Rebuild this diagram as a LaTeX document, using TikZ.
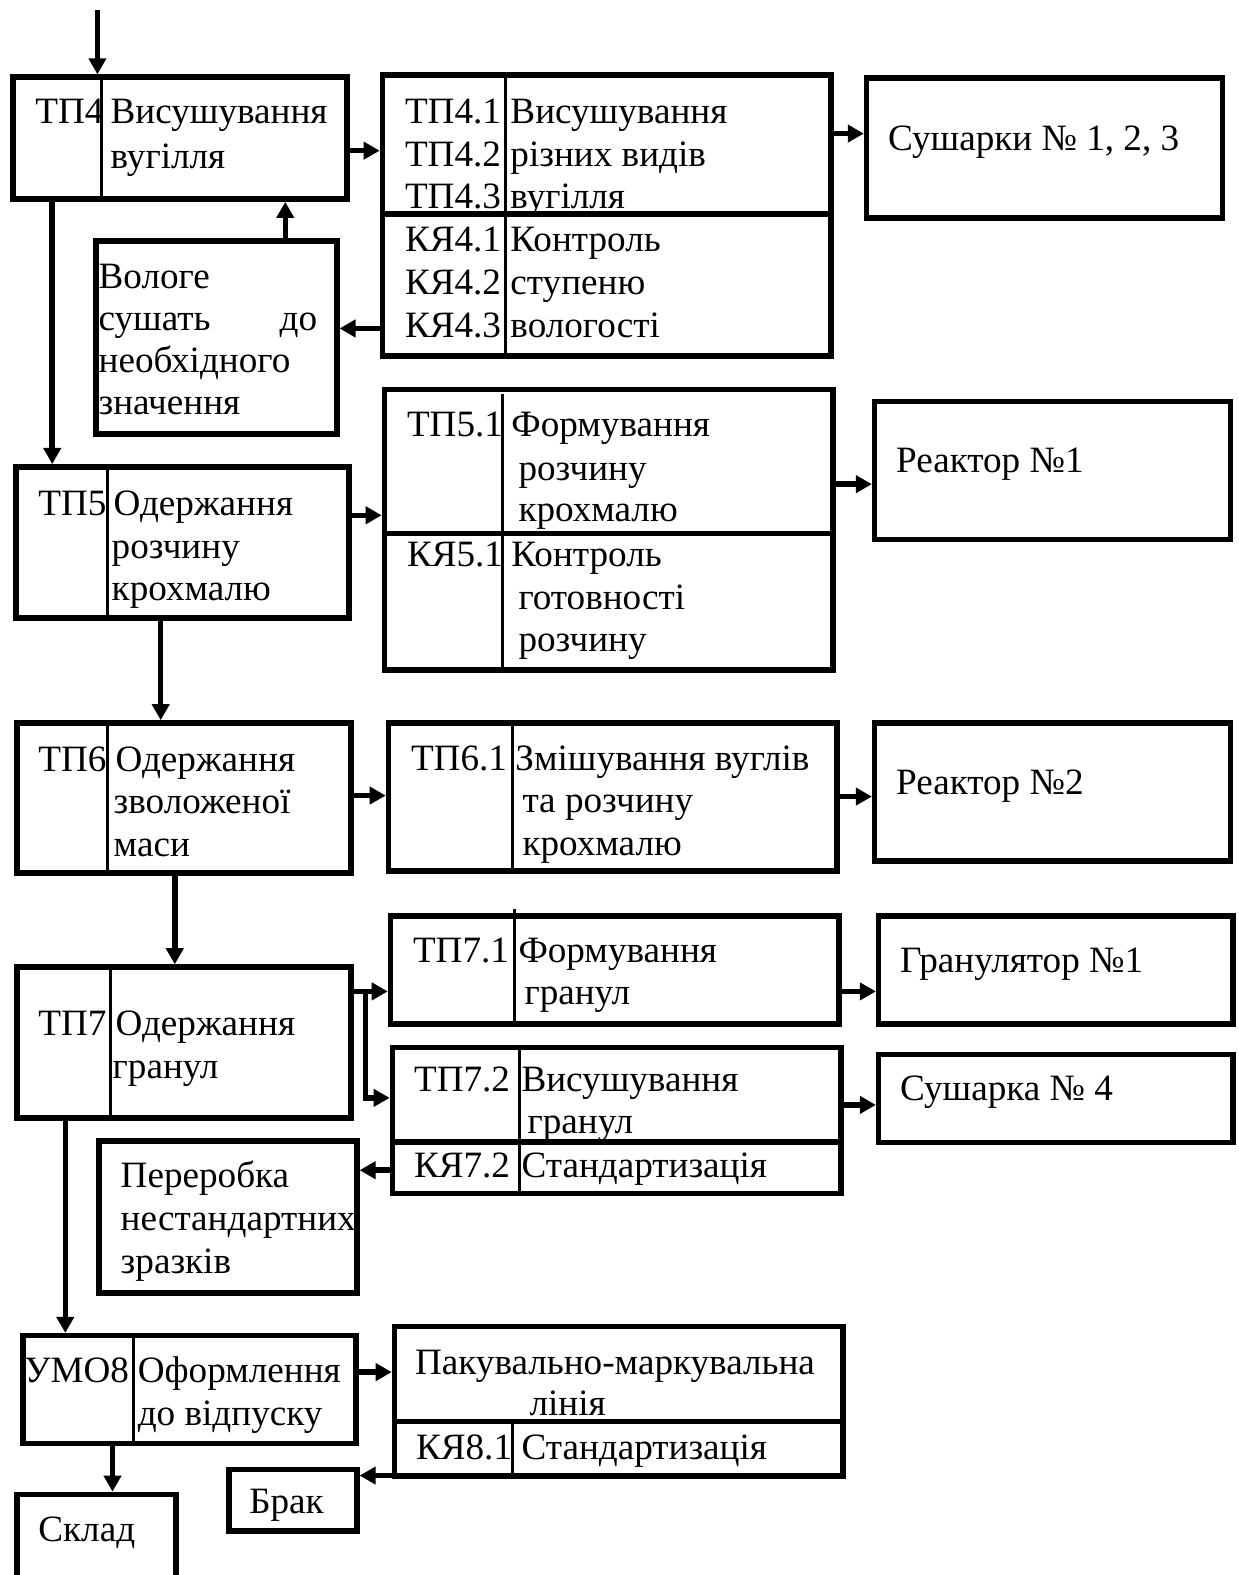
\documentclass[tikz,border=0pt]{standalone}
\usepackage{fontspec}
\setmainfont{Liberation Serif}
\usetikzlibrary{arrows.meta}
\newcommand\mkbox[5]{\node[box, minimum width={#4-#2-5.5}, minimum height={#5-#3-5.5}] (#1) at (#2,#3) {};}
\newcommand\vdiv[2]{\draw[divl] ([xshift=#2pt]#1.north west) -- ([xshift=#2pt]#1.south west);}
\newcommand\hsplit[2]{\draw[splitl] ([yshift=-#2pt]#1.north west) -- ([yshift=-#2pt]#1.north east);}
\begin{document}
\begin{tikzpicture}[x=1pt,y=-1pt,
 box/.style={draw, line width=5.5pt, inner sep=0pt, outer sep=2.75pt, anchor=north west},
 divl/.style={line width=2.8pt},
 splitl/.style={line width=5.5pt},
 arr/.style={line width=5.5pt, -{Triangle[length=16pt,width=17pt]}},
 txt/.style={anchor=base west, inner sep=0pt, font=\fontsize{37}{43}\selectfont},
 txte/.style={anchor=base east, inner sep=0pt, font=\fontsize{37}{43}\selectfont},
]
\useasboundingbox (0,0) rectangle (1233,1568);
% boxes
\mkbox{tp4}{10}{74}{348}{201}
\mkbox{tp41}{378}{72}{830}{357}
\mkbox{sush}{860}{75}{1220}{220}
\mkbox{vol}{93}{237}{338}{435}
\mkbox{tp5}{13}{462}{350}{618}
\mkbox{tp51}{380}{385}{832}{670}
\mkbox{ra}{868}{397}{1228}{540}
\mkbox{tp6}{14}{717}{352}{872}
\mkbox{tp61}{384}{717}{836}{870}
\mkbox{rb}{868}{717}{1228}{860}
\mkbox{tp7}{14}{960}{352}{1116}
\mkbox{tp71}{386}{909}{838}{1022}
\mkbox{gran}{872}{909}{1230}{1022}
\mkbox{tp72}{388}{1040}{840}{1191}
\mkbox{susha}{872}{1047}{1230}{1140}
\mkbox{perer}{96}{1133}{358}{1290}
\mkbox{umo}{20}{1327}{357}{1440}
\mkbox{pak}{390}{1318}{842}{1472}
\mkbox{brak}{225}{1460}{358}{1527}
\mkbox{sklad}{14}{1485}{178}{1590}
% texts
\node[txt] (t1) at (35,123) {ТП4};
\node[txt] (t2) at (110,123) {Висушування};
\node[txt] (t3) at (110,168) {вугілля};
\node[txt] (t4) at (403,123) {ТП4.1};
\node[txt] (t5) at (508,123) {Висушування};
\node[txt] (t6) at (403,166) {ТП4.2};
\node[txt] (t7) at (508,166) {різних видів};
\node[txt] (t8) at (403,208) {ТП4.3};
\node[txt] (t9) at (508,208) {вугілля};
\node[txt] (t10) at (403,250) {КЯ4.1};
\node[txt] (t11) at (508,250) {Контроль};
\node[txt] (t12) at (403,293) {КЯ4.2};
\node[txt] (t13) at (508,293) {ступеню};
\node[txt] (t14) at (403,336) {КЯ4.3};
\node[txt] (t15) at (508,336) {вологості};
\node[txt] (t16) at (884,150) {Сушарки № 1, 2, 3};
\node[txt] (t17) at (98,287) {Вологе};
\node[txt] (t18) at (98,329) {сушать};
\node[txte] (t19) at (316,329) {до};
\node[txt] (t20) at (98,371) {необхідного};
\node[txt] (t21) at (98,413) {значення};
\node[txt] (t22) at (38,513) {ТП5};
\node[txt] (t23) at (113,513) {Одержання};
\node[txt] (t24) at (111,556) {розчину};
\node[txt] (t25) at (111,598) {крохмалю};
\node[txt] (t26) at (405,435) {ТП5.1};
\node[txt] (t27) at (509,435) {Формування};
\node[txt] (t28) at (516,478) {розчину};
\node[txt] (t29) at (516,519) {крохмалю};
\node[txt] (t30) at (405,564) {КЯ5.1};
\node[txt] (t31) at (509,564) {Контроль};
\node[txt] (t32) at (516,607) {готовності};
\node[txt] (t33) at (516,649) {розчину};
\node[txt] (t34) at (892,470) {Реактор №1};
\node[txt] (t35) at (38,768) {ТП6};
\node[txt] (t36) at (115,768) {Одержання};
\node[txt] (t37) at (113,810) {зволоженої};
\node[txt] (t38) at (113,853) {маси};
\node[txt] (t39) at (409,767) {ТП6.1};
\node[txt] (t40) at (513,767) {Змішування вуглів};
\node[txt] (t41) at (520,809) {та розчину};
\node[txt] (t42) at (520,852) {крохмалю};
\node[txt] (t43) at (892,791) {Реактор №2};
\node[txt] (t44) at (38,1031) {ТП7};
\node[txt] (t45) at (115,1031) {Одержання};
\node[txt] (t46) at (112,1074) {гранул};
\node[txt] (t47) at (411,958) {ТП7.1};
\node[txt] (t48) at (516,958) {Формування};
\node[txt] (t49) at (522,1000) {гранул};
\node[txt] (t50) at (896,968) {Гранулятор №1};
\node[txt] (t51) at (412,1087) {ТП7.2};
\node[txt] (t52) at (519,1087) {Висушування};
\node[txt] (t53) at (525,1128) {гранул};
\node[txt] (t54) at (412,1172) {КЯ7.2};
\node[txt] (t55) at (519,1172) {Стандартизація};
\node[txt] (t56) at (896,1096) {Сушарка № 4};
\node[txt] (t57) at (120,1182) {Переробка};
\node[txt] (t58) at (120,1225) {нестандартних};
\node[txt] (t59) at (120,1268) {зразків};
\node[txt] (t60) at (24,1376) {УМО8};
\node[txt] (t61) at (137,1376) {Оформлення};
\node[txt] (t62) at (137,1419) {до відпуску};
\node[txt] (t63) at (413,1368) {Пакувально-маркувальна};
\node[txt] (t64) at (527,1409) {лінія};
\node[txt] (t65) at (414,1453) {КЯ8.1};
\node[txt] (t66) at (519,1453) {Стандартизація};
\node[txt] (t67) at (248,1507) {Брак};
\node[txt] (t68) at (38,1535) {Склад};
% dividers and splits
\vdiv{tp4}{91}
\vdiv{tp41}{125}
\hsplit{tp41}{141}
\vdiv{tp5}{94}
\draw[divl] ([xshift=120pt,yshift=-7pt]tp51.north west) -- ([xshift=120pt]tp51.south west);
\hsplit{tp51}{146}
\vdiv{tp6}{93}
\vdiv{tp61}{126}
\vdiv{tp7}{96}
\draw[divl] ([xshift=126pt,yshift=4pt]tp71.north west) -- ([xshift=126pt]tp71.south west);
\vdiv{tp72}{129}
\hsplit{tp72}{97}
\vdiv{umo}{113}
\hsplit{pak}{97}
\draw[divl] ([xshift=120pt,yshift=-97pt]pak.north west) -- ([xshift=120pt]pak.south west);
% level coordinates
\coordinate (in) at (97,10);
\coordinate (ya) at (0,150);
\coordinate (yb) at (0,133);
\coordinate (xc) at (284,0);
\coordinate (yd) at (0,327);
\coordinate (xe) at (52,0);
\coordinate (yf) at (0,513);
\coordinate (yg) at (0,482);
\coordinate (xh) at (160,0);
\coordinate (yi) at (0,792);
\coordinate (yj) at (0,793);
\coordinate (xk) at (174,0);
\coordinate (yl) at (0,987);
\coordinate (xm) at (364,0);
\coordinate (yn) at (0,1093);
\coordinate (yo) at (0,987);
\coordinate (yp) at (0,1100);
\coordinate (yq) at (0,1165);
\coordinate (xr) at (65,0);
\coordinate (ys) at (0,1366);
\coordinate (yt) at (0,1469);
\coordinate (xu) at (112,0);
% connectors
\draw[arr] (in) -- (in |- tp4.north);
\draw[arr] (tp4.east |- ya) -- (tp41.west |- ya);
\draw[arr] (tp41.east |- yb) -- (sush.west |- yb);
\draw[arr] (xc |- vol.north) -- (xc |- tp4.south);
\draw[arr] (tp41.west |- yd) -- (vol.east |- yd);
\draw[arr] (xe |- tp4.south) -- (xe |- tp5.north);
\draw[arr] (tp5.east |- yf) -- (tp51.west |- yf);
\draw[arr] (tp51.east |- yg) -- (ra.west |- yg);
\draw[arr] (xh |- tp5.south) -- (xh |- tp6.north);
\draw[arr] (tp6.east |- yi) -- (tp61.west |- yi);
\draw[arr] (tp61.east |- yj) -- (rb.west |- yj);
\draw[arr] (xk |- tp6.south) -- (xk |- tp7.north);
\draw[arr] (tp7.east |- yl) -- (tp71.west |- yl);
\draw[arr] (xm |- yl) -- (xm |- yn) -- (tp72.west |- yn);
\draw[arr] (tp71.east |- yo) -- (gran.west |- yo);
\draw[arr] (tp72.east |- yp) -- (susha.west |- yp);
\draw[arr] (tp72.west |- yq) -- (perer.east |- yq);
\draw[arr] (xr |- tp7.south) -- (xr |- umo.north);
\draw[arr] (umo.east |- ys) -- (pak.west |- ys);
\draw[arr] (pak.west |- yt) -- (brak.east |- yt);
\draw[arr] (xu |- umo.south) -- (xu |- sklad.north);
\end{tikzpicture}
\end{document}
